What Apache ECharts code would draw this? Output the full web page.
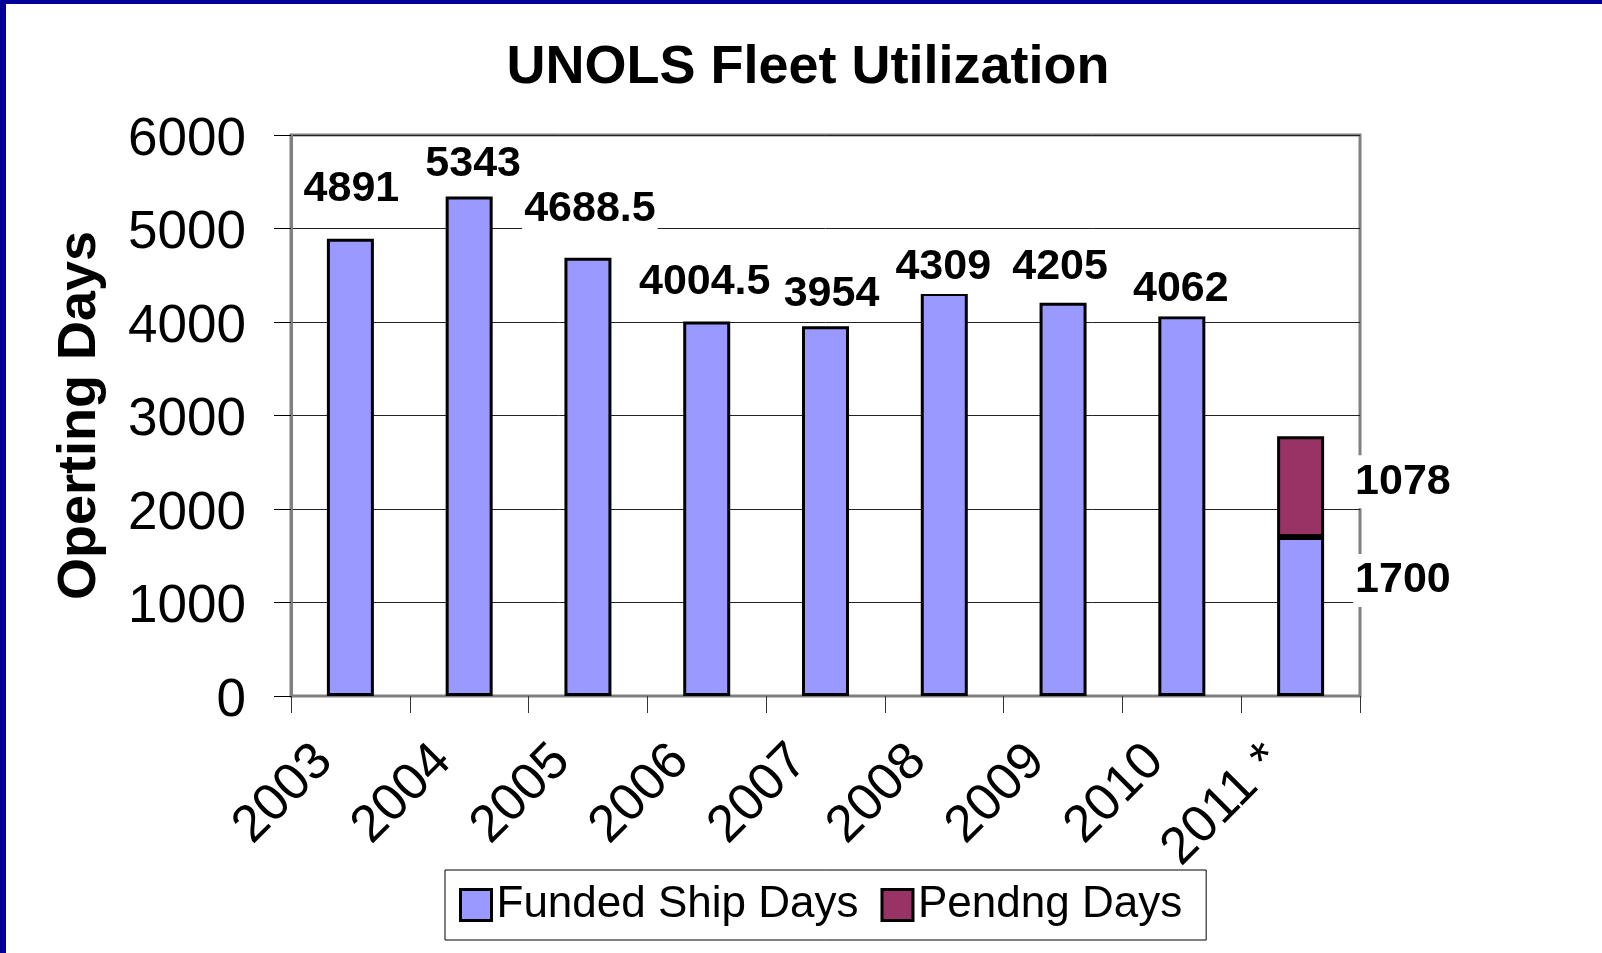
<!DOCTYPE html>
<html>
<head>
<meta charset="utf-8">
<script src="https://cdn.jsdelivr.net/npm/echarts@6/dist/echarts.min.js"></script>
<style>
  html, body { margin: 0; padding: 0; background: #fff; }
  #main { width: 1602px; height: 953px; }
</style>
</head>
<body>
<div id="main"></div>
<script>
// values
const years = ['2003', '2004', '2005', '2006', '2007', '2008', '2009', '2010', '2011 *'];
const fundedDays = [4891, 5343, 4688.5, 4004.5, 3954, 4309, 4205, 4062, 1700];
const pendingDays = ['-', '-', '-', '-', '-', '-', '-', '-', 1078];
const yTicks = [0, 1000, 2000, 3000, 4000, 5000, 6000];

// label nudges (Excel put them a bit all over the place)
const labelNudge = [[1, -23], [4, -5], [2, -21], [-2, -12], [6, -5], [-1, 1], [-3, -9], [-1, 0]];

const FONT = "'Liberation Sans', Arial, sans-serif";

const labelBase = {
    show: true,
    fontFamily: FONT,
    fontSize: 43,
    fontWeight: 'bold',
    color: '#000',
    backgroundColor: '#fff',
    padding: [6, 2, 7, 2],
    lineHeight: 40
};

const fundedData = fundedDays.map((v, i) => {
    if (i < labelNudge.length) {
        return { value: v, label: Object.assign({}, labelBase, { position: 'top', distance: 0, offset: labelNudge[i] }) };
    }
    return { value: v, label: Object.assign({}, labelBase, { position: 'right', distance: 29, offset: [0, -36] }) };
});

const pendingData = pendingDays.map(v => {
    if (v === '-') return v;
    return { value: v, label: Object.assign({}, labelBase, { position: 'right', distance: 29, offset: [0, -5] }) };
});

let chart = echarts.init(document.getElementById('main'), null, { renderer: 'canvas' });

let option = {
    animation: false,
    backgroundColor: '#fff',
    title: {
        text: 'UNOLS Fleet Utilization',
        left: 808,
        textAlign: 'center',
        top: 41,
        padding: 0,
        textStyle: { fontFamily: FONT, fontSize: 54, fontWeight: 'bold', color: '#000' }
    },
    legend: {
        data: ['Funded Ship Days', 'Pendng Days'],
        left: 445,
        top: 870,
        orient: 'horizontal',
        icon: 'rect',
        itemWidth: 31,
        itemHeight: 31,
        itemGap: 22,
        padding: [13, 24, 13, 14],
        borderColor: '#000',
        borderWidth: 1,
        itemStyle: { borderColor: '#000', borderWidth: 3 },
        textStyle: { fontFamily: FONT, fontSize: 44, color: '#000' }
    },
    grid: {
        left: 291,
        right: 242,
        top: 135,
        bottom: 257,
        show: true,
        borderColor: '#808080',
        borderWidth: 3,
        containLabel: false
    },
    xAxis: {
        type: 'category',
        data: years,
        boundaryGap: true,
        axisLine: { lineStyle: { color: '#808080', width: 2 } },
        axisTick: { show: true, length: 17, lineStyle: { color: '#333', width: 1 } },
        axisLabel: {
            rotate: 45,
            margin: 31,
            padding: [0, 37, 0, 0],
            interval: 0,
            fontFamily: FONT,
            fontSize: 52,
            color: '#000'
        }
    },
    yAxis: {
        type: 'value',
        min: yTicks[0],
        max: yTicks[yTicks.length - 1],
        interval: 1000,
        name: 'Operting Days',
        nameLocation: 'middle',
        nameRotate: 90,
        nameGap: 184,
        nameTextStyle: { fontFamily: FONT, fontSize: 54, fontWeight: 'bold', color: '#000' },
        axisLine: { show: true, lineStyle: { color: '#808080', width: 3 } },
        axisTick: { show: true, length: 17, lineStyle: { color: '#000', width: 1 } },
        axisLabel: {
            margin: 45,
            verticalAlign: 'top',
            lineHeight: 10,
            formatter: v => String(v),
            fontFamily: FONT,
            fontSize: 53,
            color: '#000'
        },
        splitLine: { show: true, lineStyle: { color: '#222', width: 1 } }
    },
    graphic: [
        { type: 'rect', left: 0, top: 0, shape: { width: 6, height: 953 }, style: { fill: '#000099' }, z: 100 },
        { type: 'rect', left: 0, top: 0, shape: { width: 1602, height: 4 }, style: { fill: '#000099' }, z: 100 }
    ],
    series: [
        {
            name: 'Funded Ship Days',
            type: 'bar',
            stack: 'days',
            barWidth: 47,
            data: fundedData,
            itemStyle: { color: '#9999FF', borderColor: '#000', borderWidth: 3 }
        },
        {
            name: 'Pendng Days',
            type: 'bar',
            stack: 'days',
            barWidth: 47,
            data: pendingData,
            itemStyle: { color: '#993366', borderColor: '#000', borderWidth: 3 }
        }
    ]
};

chart.setOption(option);
</script>
</body>
</html>
